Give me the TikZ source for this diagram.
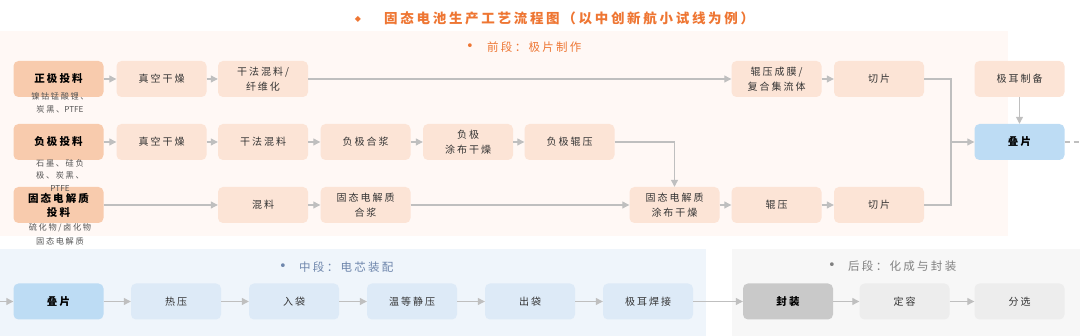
\documentclass[tikz,border=0pt]{standalone}
\usepackage{fontspec}
\setmainfont{Noto Sans CJK SC}
\newfontfamily\cjksp[LetterSpace=20]{Noto Sans CJK SC}
\newfontfamily\symfont{DejaVu Sans}
\newcommand{\latn}[1]{{\addfontfeature{LetterSpace=0}#1}}
\usetikzlibrary{arrows.meta}
\definecolor{ttl}{HTML}{EE7633}
\definecolor{lor}{HTML}{FCE4D6}
\definecolor{dor}{HTML}{F8CBAD}
\definecolor{dblue}{HTML}{BDDCF4}
\definecolor{lblue}{HTML}{DDEAF7}
\definecolor{dgray}{HTML}{C9C9C9}
\definecolor{lgray}{HTML}{EDEDED}
\definecolor{bgtop}{HTML}{FFF8F5}
\definecolor{bgmid}{HTML}{EFF5FB}
\definecolor{bgback}{HTML}{F7F7F7}
\definecolor{argray}{HTML}{BFBFBF}
\definecolor{txt}{HTML}{333333}
\definecolor{subtxt}{HTML}{555555}
\definecolor{midlab}{HTML}{6E86AC}
\definecolor{backlab}{HTML}{808080}
\begin{document}
\begin{tikzpicture}[x=1pt,y=-1pt,
  box/.style={rectangle, rounded corners=5pt, minimum width=90pt, minimum height=36pt,
    inner sep=1pt, align=center, text=txt, fill=lor,
    font=\cjksp\fontsize{10}{15}\selectfont},
  inbox/.style={box, fill=dor, text=black, font=\cjksp\bfseries\fontsize{10.5}{14}\selectfont},
  keybox/.style={box, text=black, font=\cjksp\bfseries\fontsize{10.5}{14}\selectfont},
  sub/.style={font=\cjksp\fontsize{8.2}{13.5}\selectfont, text=subtxt, align=center, inner sep=0pt},
  lab/.style={font=\cjksp\fontsize{11.5}{14}\selectfont, inner sep=0pt, anchor=west},
  bul/.style={font=\symfont\fontsize{13}{14}\selectfont, inner sep=0pt},
  arr/.style={draw=argray, line width=1.1pt, -{Triangle[length=7pt,width=7pt]}},
  ln/.style={draw=argray, line width=1.1pt},
  dln/.style={draw=argray, line width=1.1pt, dash pattern=on 5pt off 4pt}
]
\useasboundingbox (0,0) rectangle (1080,336);
% backgrounds
\fill[bgtop] (0,31) rectangle (1008,236);
\fill[bgmid] (0,249) rectangle (706,336);
\fill[bgback] (732,249) rectangle (1080,336);

% title
\node[text=ttl, font=\symfont\fontsize{8}{9}\selectfont, inner sep=0pt] (tdia) at (358,19) {◆};
\node[text=ttl, font=\cjksp\bfseries\fontsize{13.5}{16}\selectfont, inner sep=0pt, anchor=west] (title) at (384,18) {固态电池生产工艺流程图（以中创新航小试线为例）};

% section labels
\node[bul, text=ttl] (b1lab) at (470,47) {•};
\node[lab, text=ttl] (l1) at (487,47) {前段：极片制作};
\node[bul, text=midlab] (b2lab) at (283,267) {•};
\node[lab, text=midlab] (l2) at (299,267) {中段：电芯装配};
\node[bul, text=backlab] (b3lab) at (832,266) {•};
\node[lab, text=backlab] (l3) at (848,266) {后段：化成与封装};

% row 1
\node[inbox] (p0) at (58.5,79) {正极投料};
\node[box] (p1) at (161.5,79) {真空干燥};
\node[box] (p2) at (263,79) {干法混料/\\纤维化};
\node[box] (p5) at (776.5,79) {辊压成膜/\\复合集流体};
\node[box] (p6) at (879,79) {切片};
\node[box] (tab) at (1019.5,79) {极耳制备};

% row 2
\node[inbox] (n0) at (58.5,142) {负极投料};
\node[box] (n1) at (161.5,142) {真空干燥};
\node[box] (n2) at (263,142) {干法混料};
\node[box] (n3) at (365.5,142) {负极合浆};
\node[box] (n4) at (468,142) {负极\\涂布干燥};
\node[box] (n5) at (569.5,142) {负极辊压};
\node[keybox, fill=dblue] (stack) at (1019.5,142) {叠片};

% row 3
\node[inbox] (e0) at (58.5,205) {固态电解质\\投料};
\node[box] (e2) at (263,205) {混料};
\node[box] (e3) at (365.5,205) {固态电解质\\合浆};
\node[box] (e4) at (674.5,205) {固态电解质\\涂布干燥};
\node[box] (e5) at (776.5,205) {辊压};
\node[box] (e6) at (879,205) {切片};

% raw-material notes (drawn over the boxes)
\node[sub] (p0s) at (60,103) {镍钴锰酸锂、\\炭黑、\latn{PTFE}};
\node[sub, font=\cjksp\fontsize{8.2}{12.5}\selectfont] (n0s) at (60,175.5) {石墨、硅负\\极、炭黑、\\\latn{PTFE}};
\node[sub] (e0s) at (60,234.5) {硫化物/卤化物\\固态电解质};

% bottom row
\coordinate (bstart) at (0,301.5);
\node[keybox, fill=dblue] (b0) at (58.5,301.5) {叠片};
\node[box, fill=lblue] (bb1) at (176,301.5) {热压};
\node[box, fill=lblue] (bb2) at (294,301.5) {入袋};
\node[box, fill=lblue] (bb3) at (412,301.5) {温等静压};
\node[box, fill=lblue] (bb4) at (530,301.5) {出袋};
\node[box, fill=lblue] (bb5) at (648,301.5) {极耳焊接};
\node[keybox, fill=dgray] (c0) at (788,301.5) {封装};
\node[box, fill=lgray] (c1) at (904.5,301.5) {定容};
\node[box, fill=lgray] (c2) at (1019.5,301.5) {分选};

% connectors row 1
\draw[arr] (p0) -- (p1);
\draw[arr] (p1) -- (p2);
\draw[arr] (p2) -- (p5);
\draw[arr] (p5) -- (p6);
\coordinate (jx) at (951,142);
\draw[ln] (p6.east) -| (jx);
\draw[ln] (e6.east) -| (jx);
\draw[arr] (jx) -- (stack.west);
\draw[arr] (tab) -- (stack);
\coordinate (dend) at (1080,142);
\draw[dln] (stack.east) -- (dend);

% connectors row 2
\draw[arr] (n0) -- (n1);
\draw[arr] (n1) -- (n2);
\draw[arr] (n2) -- (n3);
\draw[arr] (n3) -- (n4);
\draw[arr] (n4) -- (n5);
\draw[arr] (n5.east) -| (e4.north);

% connectors row 3
\draw[arr] (e0) -- (e2);
\draw[arr] (e2) -- (e3);
\draw[arr] (e3) -- (e4);
\draw[arr] (e4) -- (e5);
\draw[arr] (e5) -- (e6);

% bottom connectors
\draw[arr] (bstart) -- (b0);
\draw[arr] (b0) -- (bb1);
\draw[arr] (bb1) -- (bb2);
\draw[arr] (bb2) -- (bb3);
\draw[arr] (bb3) -- (bb4);
\draw[arr] (bb4) -- (bb5);
\draw[arr] (bb5) -- (c0);
\draw[arr] (c0) -- (c1);
\draw[arr] (c1) -- (c2);
\end{tikzpicture}
\end{document}
